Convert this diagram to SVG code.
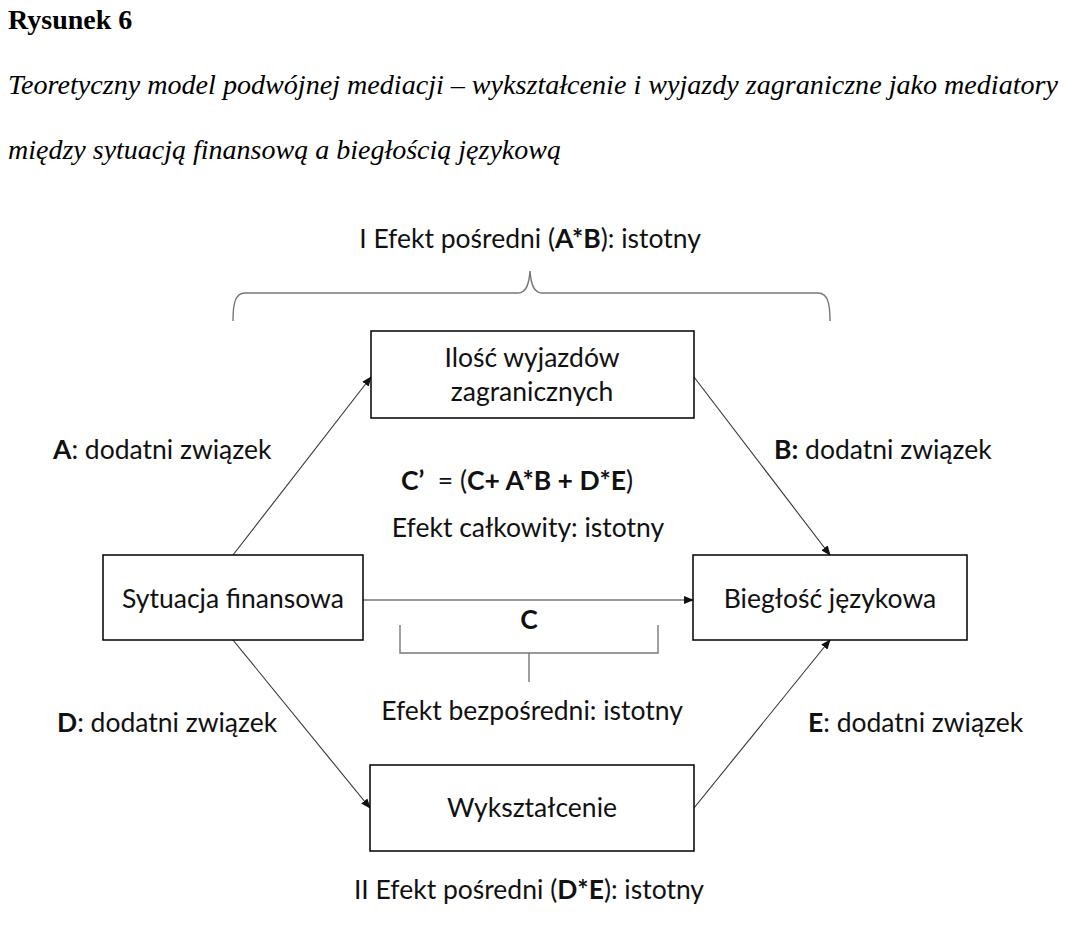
<svg xmlns="http://www.w3.org/2000/svg" width="1067" height="947" viewBox="0 0 1067 947">
<style>
.bg{fill:#fff}
.box{fill:#fff;stroke:#000;stroke-width:1.5}
.t{font-family:Lato,"Open Sans","Noto Sans",sans-serif;font-size:26.5px;fill:#111}
.c{text-anchor:middle}
.b{font-weight:bold}
.title{font-family:"Liberation Serif","Times New Roman",serif;font-size:28px;font-weight:bold;fill:#000}
.cap{font-family:"Liberation Serif","Times New Roman",serif;font-size:28px;font-style:italic;fill:#000}
.line{stroke:#333;stroke-width:1.1;fill:none}
.brace{stroke:#777;stroke-width:1.4;fill:none}
</style>
<defs>
<marker id="ah" markerWidth="10" markerHeight="8" refX="9" refY="4" orient="auto" markerUnits="userSpaceOnUse">
<path d="M0,0 L10,4 L0,8 z" fill="#111"/>
</marker>
</defs>
<rect class="bg" width="1067" height="947"/>
<g id="caption">
<text class="title" x="8" y="29">Rysunek 6</text>
<text class="cap" x="8" y="94" textLength="1050" lengthAdjust="spacingAndGlyphs">Teoretyczny model podwójnej mediacji – wykształcenie i wyjazdy zagraniczne jako mediatory</text>
<text class="cap" x="8" y="159">między sytuacją finansową a biegłością językową</text>
</g>
<g id="connectors">
<line class="line" x1="233" y1="555" x2="371" y2="377" marker-end="url(#ah)"/>
<line class="line" x1="694" y1="377" x2="830" y2="555" marker-end="url(#ah)"/>
<line class="line" x1="363" y1="600" x2="693" y2="600" marker-end="url(#ah)"/>
<line class="line" x1="233" y1="640" x2="370" y2="808" marker-end="url(#ah)"/>
<line class="line" x1="694" y1="808" x2="830" y2="640" marker-end="url(#ah)"/>
</g>
<g id="brace-top">
<path class="brace" d="M233,321 C233,304 235,293 245,293 L518,293 C526,293 529,285 530,271 C531,285 534,293 542,293 L818,293 C828,293 830,304 830,321"/>
<text class="t c" x="530" y="248">I Efekt pośredni (<tspan class="b">A*B</tspan>): istotny</text>
</g>
<g id="brace-c">
<path class="brace" d="M400,625 L400,653 L658,653 L658,625 M529,653 L529,682"/>
<text class="t c b" x="529" y="629">C</text>
<text class="t c" x="532" y="720">Efekt bezpośredni: istotny</text>
</g>
<g id="node-wyjazdy">
<rect class="box" x="371" y="331" width="323" height="87"/>
<text class="t c" x="532" y="367">Ilość wyjazdów</text>
<text class="t c" x="532" y="401">zagranicznych</text>
</g>
<g id="node-sytuacja">
<rect class="box" x="103" y="555" width="260" height="85"/>
<text class="t c" x="233" y="608">Sytuacja finansowa</text>
</g>
<g id="node-bieglosc">
<rect class="box" x="693" y="555" width="274" height="85"/>
<text class="t c" x="830" y="608">Biegłość językowa</text>
</g>
<g id="node-wyksztalcenie">
<rect class="box" x="370" y="765" width="324" height="86"/>
<text class="t c" x="532" y="817">Wykształcenie</text>
</g>
<g id="labels">
<text class="t" x="53" y="459"><tspan class="b">A</tspan>: dodatni związek</text>
<text class="t" x="774" y="459"><tspan class="b">B:</tspan> dodatni związek</text>
<text class="t c" x="517" y="490" style="white-space:pre"><tspan class="b">C’</tspan>  = (<tspan class="b">C+ A*B + D*E</tspan>)</text>
<text class="t c" x="528" y="537">Efekt całkowity: istotny</text>
<text class="t" x="57" y="732"><tspan class="b">D</tspan>: dodatni związek</text>
<text class="t" x="808" y="732"><tspan class="b">E</tspan>: dodatni związek</text>
<text class="t c" x="529" y="899">II Efekt pośredni (<tspan class="b">D*E</tspan>): istotny</text>
</g>
</svg>
